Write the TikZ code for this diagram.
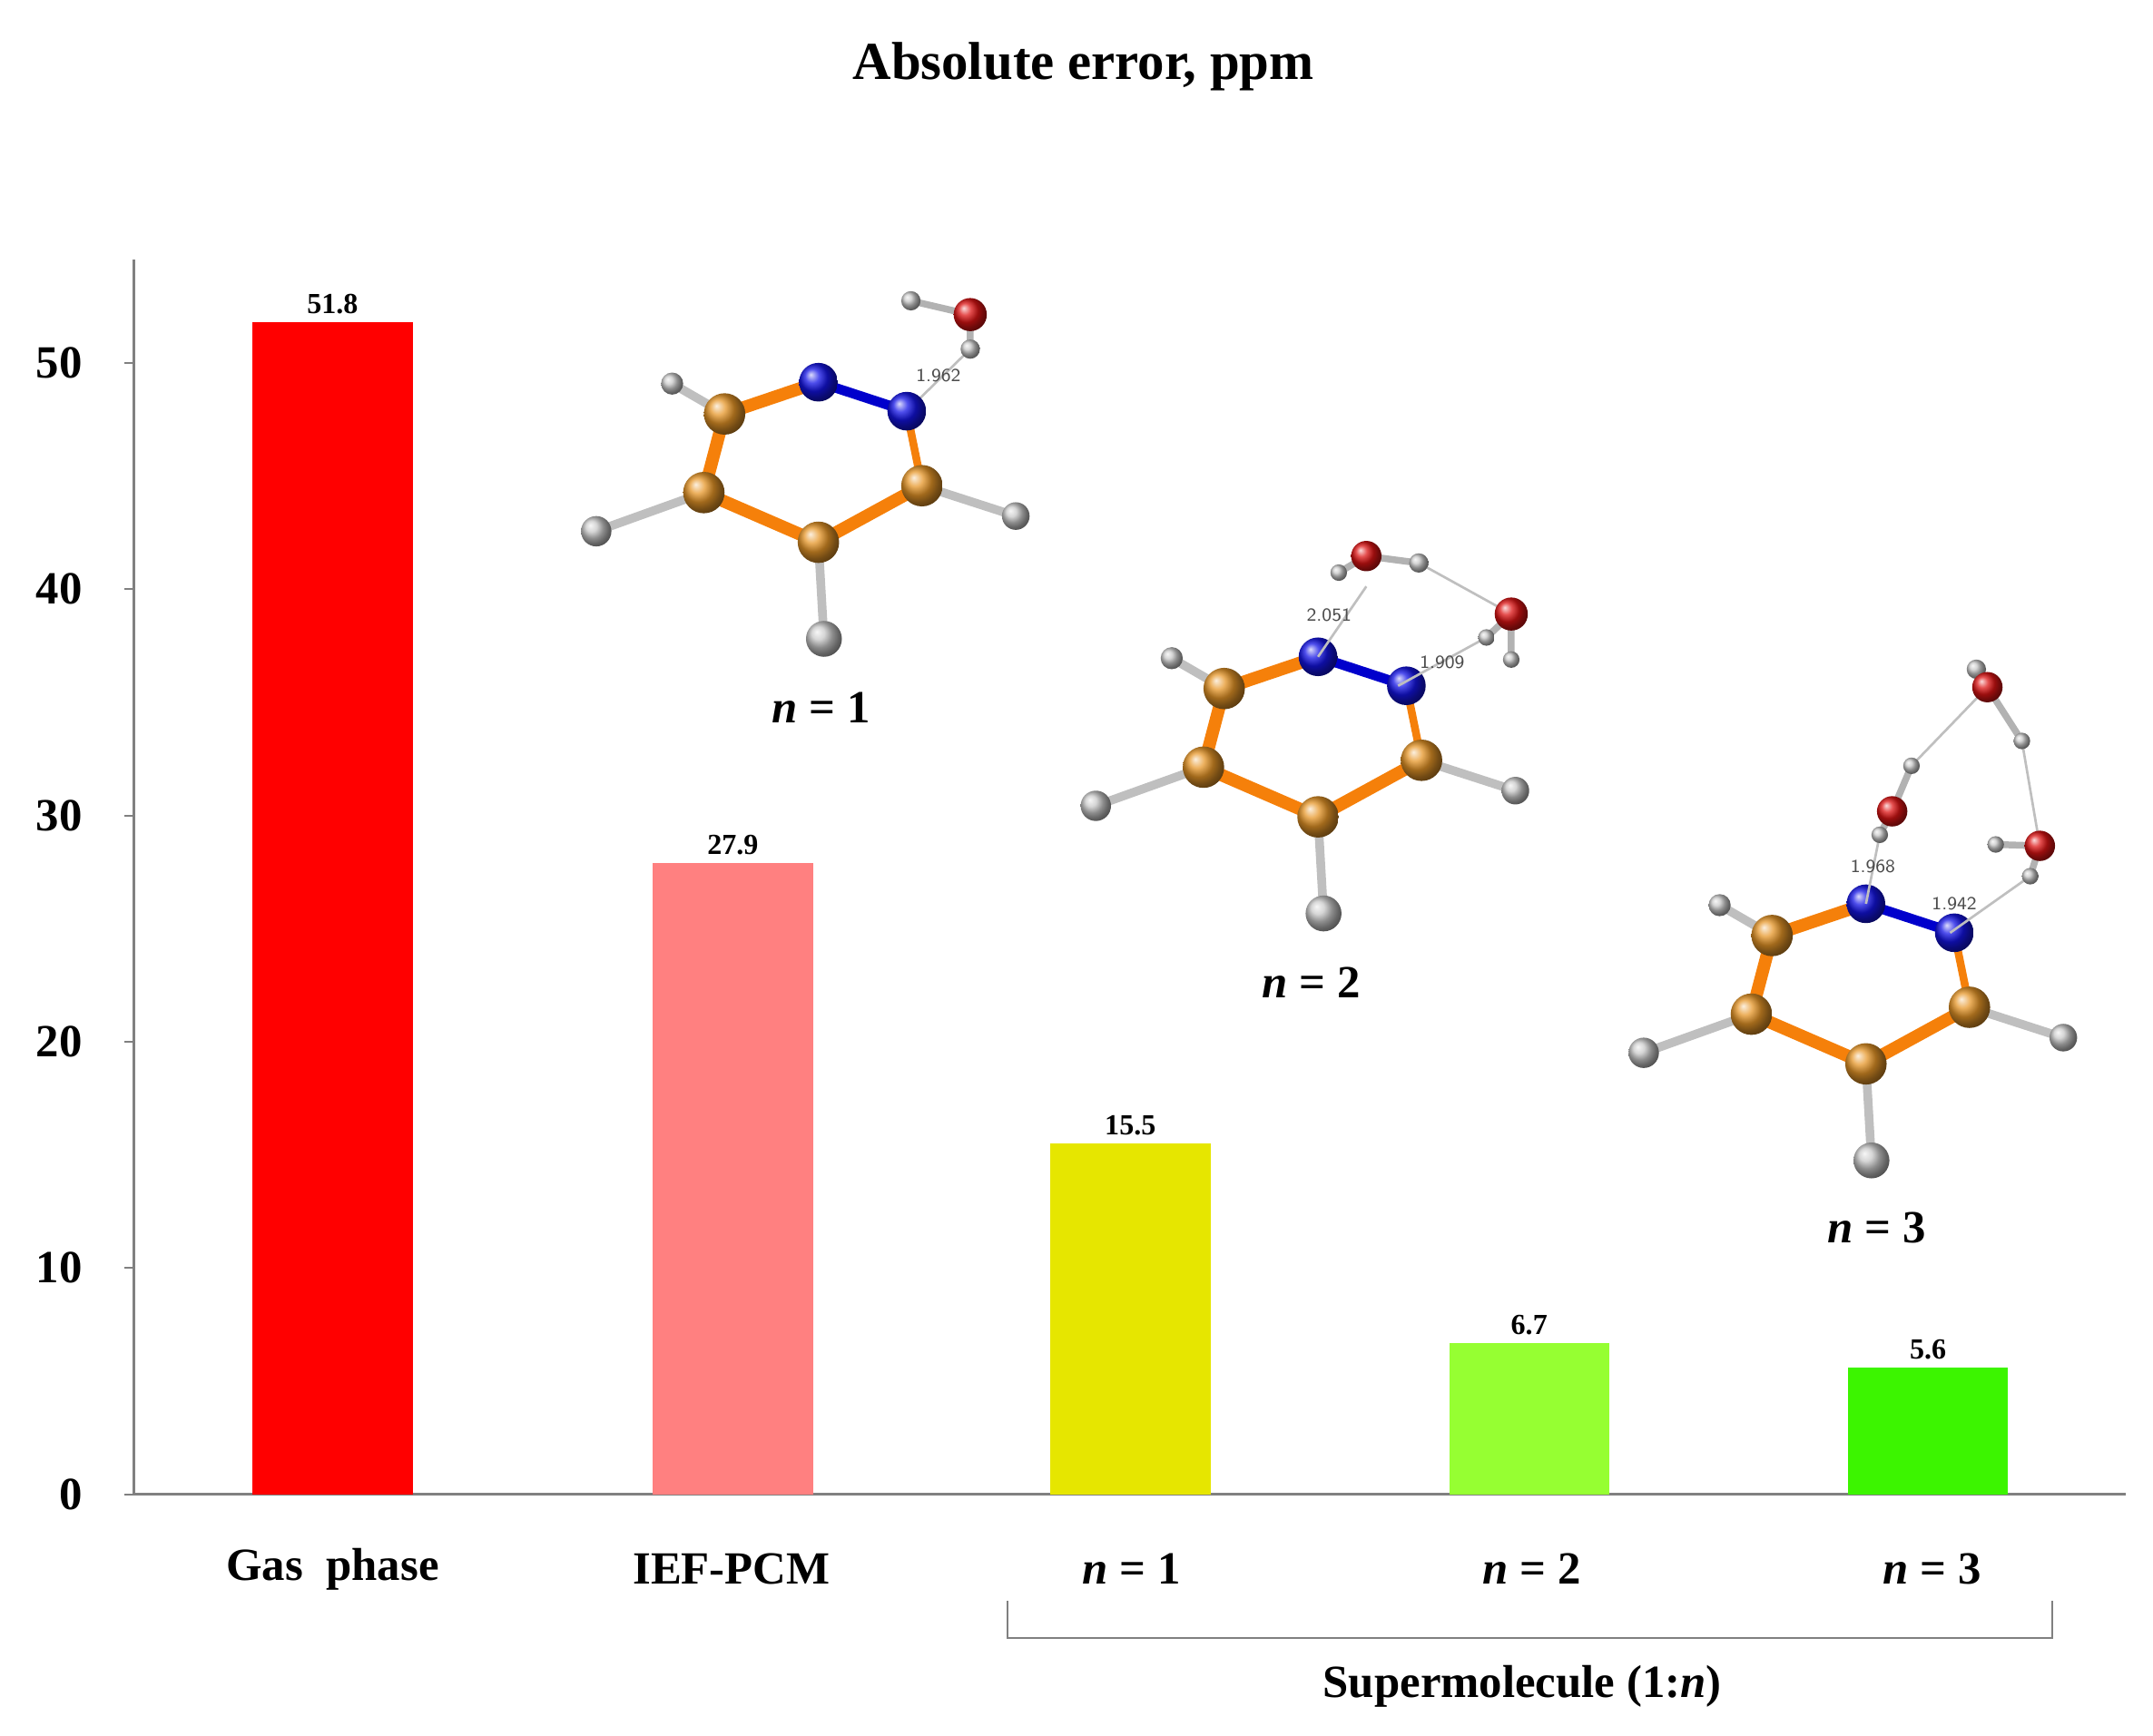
\documentclass[tikz,border=0pt]{standalone}
\usepackage{fontspec}
\setmainfont{Liberation Serif}
\tikzset{
 lbl/.style={font=\bfseries\fontsize{9.5}{11}\selectfont},
 tk/.style={font=\bfseries\fontsize{9.5}{11}\selectfont},
 val/.style={font=\bfseries\fontsize{6}{7}\selectfont, inner sep=1.5pt},
 dist/.style={font=\sffamily\fontsize{3.8}{4.5}\selectfont, text=black!70},
 cb/.style={line width=2.6pt, draw=orange!85!brown, line cap=round},
 nb/.style={line width=2pt, draw=blue!80!black, line cap=round},
 hb/.style={line width=1.8pt, draw=gray!50, line cap=round},
 ob/.style={line width=1.4pt, draw=gray!60, line cap=round},
 hbond/.style={line width=0.5pt, draw=gray!50},
}
\definecolor{cC}{RGB}{230,150,40}
\definecolor{cN}{RGB}{20,20,230}
\definecolor{cO}{RGB}{220,20,20}
\definecolor{cH}{RGB}{200,200,200}
\newcommand{\ring}{%
 \coordinate (h1) at (487,278); \coordinate (h2) at (432,385);
 \coordinate (h3) at (597,463); \coordinate (h4) at (736,374);
 \coordinate (n1) at (593,277); \coordinate (n2) at (657,298);
 \coordinate (c1) at (525,300); \coordinate (c2) at (510,357);
 \coordinate (c3) at (593,393); \coordinate (c4) at (668,352);
 \draw[hb] (c1)--(h1) (c2)--(h2) (c3)--(h3) (c4)--(h4);
 \draw[cb] (c1)--(c2)--(c3)--(c4);
 \draw[cb, line width=1.6pt] (c4)--(n2);
 \draw[cb] (c1)--(n1);
 \draw[nb] (n1)--(n2);
 \shade[ball color=cH] (h1) circle (8); \shade[ball color=cH] (h2) circle (11);
 \shade[ball color=cH] (h3) circle (13); \shade[ball color=cH] (h4) circle (10);
 \foreach \a in {c1,c2,c3,c4} {\shade[ball color=cC] (\a) circle (15);}
 \shade[ball color=cN] (n1) circle (14); \shade[ball color=cN] (n2) circle (14);
}
\begin{document}
\begin{tikzpicture}[x=0.01cm,y=-0.01cm]
\useasboundingbox (0,0) rectangle (1560,1258);
\node[font=\bfseries\fontsize{11}{13}\selectfont] (title) at (785,48) {Absolute error, ppm};
% axes
\draw[gray, line width=0.6pt] (97,188) -- (97,1083) -- (1540,1083);
\foreach \v in {0,10,...,50} {
 \draw[gray] (90,{1083-16.4*\v}) -- (97,{1083-16.4*\v});
 \node[tk, anchor=east] (t\v) at (72,{1083-16.4*\v}) {\v};
}
% bars
\foreach \x/\v/\c/\t in {183/51.8/{rgb,255:red,255;green,0;blue,0}/a, 473/27.9/{rgb,255:red,255;green,128;blue,128}/b, 761/15.5/{rgb,255:red,230;green,230;blue,0}/c, 1050/6.7/{rgb,255:red,150;green,255;blue,50}/d, 1339/5.6/{rgb,255:red,60;green,245;blue,0}/e} {
 \fill[fill=\c] (\x,1083) rectangle ({\x+116},{1083-16.4*\v});
 \node[val, anchor=south] (v\t) at ({\x+58},{1083-16.4*\v}) {\v};
}
\node[lbl] (x1) at (241,1137) {Gas\ \ phase};
\node[lbl] (x2) at (530,1137) {IEF-PCM};
\node[lbl] (x3) at (820,1137) {\textit{n} = 1};
\node[lbl] (x4) at (1110,1137) {\textit{n} = 2};
\node[lbl] (x5) at (1400,1137) {\textit{n} = 3};
\coordinate (bl) at (730,1160); \coordinate (br) at (1487,1160);
\draw[gray, line width=0.5pt] (bl) -- ++(0,27) -| (br);
\node[lbl] (sm) at (1103,1222) {Supermolecule (1:\textit{n})};
% molecule 1
\draw[hbond] (657,298) -- (703,253);
\draw[ob] (660,218)--(703,228)--(703,253);
\shade[ball color=cH] (660,218) circle (7); \shade[ball color=cH] (703,253) circle (7);
\shade[ball color=cO] (703,228) circle (12);
\ring
\node[dist] (d1) at (680,272) {1.962};
\node[lbl] (m1) at (595,513) {\textit{n} = 1};
% molecule 2
\begin{scope}[shift={(362,199)}]
 \ring
\end{scope}
\draw[hbond] (955,476) -- (990,425);
\draw[hbond] (1028,408) -- (1095,445);
\draw[hbond] (1013,497) -- (1077,462);
\draw[ob] (970,415)--(990,403)--(1028,408);
\draw[ob] (1077,462)--(1095,445)--(1095,478);
\foreach \p/\r in {{(970,415)}/6,{(1028,408)}/7,{(1077,462)}/6,{(1095,478)}/6} {\shade[ball color=cH] \p circle (\r);}
\shade[ball color=cO] (990,403) circle (11); \shade[ball color=cO] (1095,445) circle (12);
\node[dist] (d2) at (963,446) {2.051};
\node[dist] (d3) at (1045,480) {1.909};
\node[lbl] (m2) at (950,712) {\textit{n} = 2};
% molecule 3
\begin{scope}[shift={(759,378)}]
 \ring
\end{scope}
\draw[hbond] (1352,655) -- (1362,605);
\draw[hbond] (1385,555) -- (1440,498);
\draw[hbond] (1465,537) -- (1478,613);
\draw[hbond] (1413,676) -- (1471,635);
\draw[ob] (1432,485)--(1440,498)--(1465,537);
\draw[ob] (1385,555)--(1371,588)--(1362,605);
\draw[ob] (1446,612)--(1478,613)--(1471,635);
\foreach \p/\r in {{(1432,485)}/7,{(1465,537)}/6,{(1385,555)}/6,{(1362,605)}/6,{(1446,612)}/6,{(1471,635)}/6} {\shade[ball color=cH] \p circle (\r);}
\shade[ball color=cO] (1440,498) circle (11);
\shade[ball color=cO] (1371,588) circle (11);
\shade[ball color=cO] (1478,613) circle (11);
\node[dist] (d4) at (1357,628) {1.968};
\node[dist] (d5) at (1416,655) {1.942};
\node[lbl] (m3) at (1360,890) {\textit{n} = 3};
\end{tikzpicture}
\end{document}
